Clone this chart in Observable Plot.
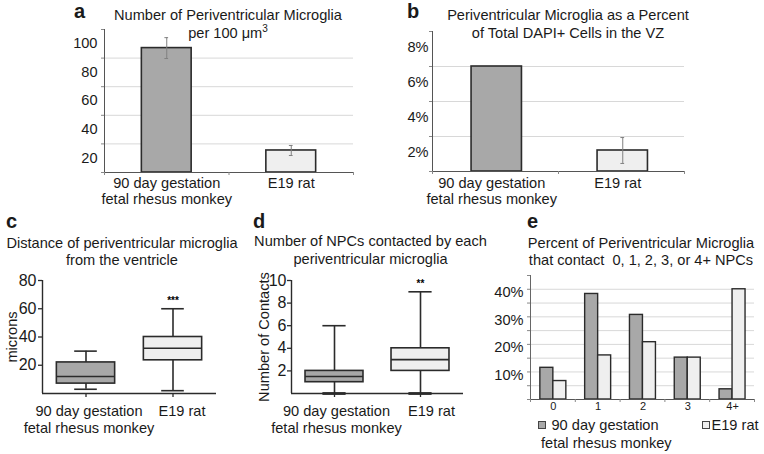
<!DOCTYPE html>
<html><head><meta charset="utf-8">
<script src="https://cdn.jsdelivr.net/npm/d3@7"></script>
<script src="https://cdn.jsdelivr.net/npm/@observablehq/plot@0.6"></script>
<style>
body{margin:0;background:#fff;}
#fig{position:relative;width:764px;height:454px;overflow:hidden;font-family:"Liberation Sans",Arial,sans-serif;color:#1a1a1a;background:#fff}
.panel{position:absolute}
.t{position:absolute;font-size:14.6px;line-height:18px;text-align:center;white-space:nowrap}
.L{position:absolute;font-size:20px;font-weight:bold;line-height:20px}
.sq{position:absolute;width:6px;height:6px;border:1px solid #444}
sup{font-size:10px;line-height:0;vertical-align:6px}
</style></head><body><div id="fig"></div><script>
// ---------- data ----------
const groups = ["90 day gestation\nfetal rhesus monkey", "E19 rat"];
const groupFills = ["#a8a8a8", "#efefef"];
// a: number of periventricular microglia per 100 um^3
const microgliaPer100 = [87, 15.4];
const microgliaPer100Err = [7.3, 3.5];
const ticksA = [20, 40, 60, 80, 100];
// b: percent of DAPI+ cells
const pctOfDapi = [6.0, 1.2];
const pctOfDapiErr = [0, 0.74];
const ticksB = [2, 4, 6, 8];
const ticksBLabels = ["2%", "4%", "6%", "8%"];
// c: distance from the ventricle (microns)
const distMin = [3, 2];
const distQ1 = [7, 23.5];
const distMedian = [12, 32];
const distQ3 = [22, 40];
const distMax = [30, 60];
const distSig = ["", "***"];
const ticksC = [20, 40, 60, 80];
// d: number of NPCs contacted
const contMin = [0, 0];
const contQ1 = [1, 2];
const contMedian = [1.5, 3];
const contQ3 = [2, 4];
const contMax = [6, 9];
const contSig = ["", "**"];
const ticksD = [2, 4, 6, 8, 10];
// e: percent contacting 0..4+ NPCs
const npcBins = ["0", "1", "2", "3", "4+"];
const monkeyPct = [11.5, 38.3, 30.7, 15.2, 3.7];
const ratPct = [6.7, 16.0, 20.8, 15.2, 40.0];
const ticksE = [10, 20, 30, 40];
const ticksELabels = ["10%", "20%", "30%", "40%"];
const gridE = [5, 10, 15, 20, 25, 30, 35, 40];

// ---------- helpers ----------
const FONT = "'Liberation Sans', Arial, sans-serif";
const INK = "#2b2b2b";
const TXT = "#1a1a1a";
const GRID = "#d8d8d8";
const fig = document.getElementById("fig");
const style = {fontFamily: FONT, fontSize: "14.6px", color: TXT, background: "transparent", overflow: "visible"};
function place(svg, left, top, w) {
  const d = document.createElement("div");
  d.className = "panel";
  d.style.left = left + "px"; d.style.top = top + "px"; d.style.width = w + "px";
  d.appendChild(svg); fig.appendChild(d);
}
function html(cls, left, top, inner, extra) {
  const d = document.createElement("div");
  d.className = cls; d.style.left = left + "px"; d.style.top = top + "px";
  if (extra) Object.assign(d.style, extra);
  d.innerHTML = inner; fig.appendChild(d);
}

// ---------- a ----------
const rowsA = groups.map((g, i) => ({i, g, v: microgliaPer100[i], e: microgliaPer100Err[i], fill: groupFills[i]}));
const errA = rowsA.filter(d => d.e > 0);
place(Plot.plot({
  width: 380, height: 210, marginLeft: 104, marginRight: 27, marginTop: 29, marginBottom: 38,
  x: {domain: [0, 2], axis: null}, y: {domain: [0, 100], axis: null}, color: {type: "identity"},
  style,
  marks: [
    Plot.ruleY(ticksA.slice(0, -1), {x1: 0, x2: 2, stroke: GRID}),
    Plot.rectY(rowsA, {x1: d => d.i + 0.3, x2: d => d.i + 0.7, y1: 0, y2: "v", fill: "fill", stroke: INK, strokeWidth: 1.6}),
    Plot.ruleX(errA, {x: d => d.i + 0.5, y1: d => d.v - d.e, y2: d => d.v + d.e, stroke: "#808080"}),
    Plot.ruleY(errA.flatMap(d => [{i: d.i, y: d.v - d.e}, {i: d.i, y: d.v + d.e}]), {y: "y", x1: d => d.i + 0.485, x2: d => d.i + 0.515, stroke: "#808080"}),
    Plot.ruleX([0], {y1: 0, y2: 100, stroke: "#555"}),
    Plot.ruleY([0], {x1: 0, x2: 2, stroke: "#555", strokeWidth: 1.2}),
    Plot.axisY({ticks: [0, ...ticksA], tickSize: 3, fill: "none", stroke: "#888", label: null}),
    Plot.axisX({ticks: [0, 1, 2], tickSize: 3, fill: "none", stroke: "#888", label: null}),
    Plot.text(ticksA, {y: d => d, frameAnchor: "left", dx: -7, dy: 14, textAnchor: "end", fontSize: 14.6, fill: TXT}),
    Plot.text(rowsA, {x: d => d.i + 0.5, text: "g", frameAnchor: "bottom", lineAnchor: "top", dy: 3, lineHeight: 1.16, fontSize: 14.6, fill: TXT})
  ]
}), 0, 0, 380);

// ---------- b ----------
const rowsB = groups.map((g, i) => ({i, g, v: pctOfDapi[i], e: pctOfDapiErr[i], fill: groupFills[i]}));
const errB = rowsB.filter(d => d.e > 0);
place(Plot.plot({
  width: 384, height: 210, marginLeft: 52, marginRight: 80, marginTop: 31, marginBottom: 39,
  x: {domain: [0, 2], axis: null}, y: {domain: [0, 8], axis: null}, color: {type: "identity"},
  style,
  marks: [
    Plot.ruleY(ticksB.slice(0, -1), {x1: 0, x2: 2, stroke: GRID}),
    Plot.rectY(rowsB, {x1: d => d.i + 0.31, x2: d => d.i + 0.71, y1: 0, y2: "v", fill: "fill", stroke: INK, strokeWidth: 1.6}),
    Plot.ruleX(errB, {x: d => d.i + 0.51, y1: d => d.v - d.e, y2: d => d.v + d.e, stroke: "#808080"}),
    Plot.ruleY(errB.flatMap(d => [{i: d.i, y: d.v - d.e}, {i: d.i, y: d.v + d.e}]), {y: "y", x1: d => d.i + 0.495, x2: d => d.i + 0.525, stroke: "#808080"}),
    Plot.ruleX([0], {y1: 0, y2: 8, stroke: "#555"}),
    Plot.ruleY([0], {x1: 0, x2: 2, stroke: "#555", strokeWidth: 1.2}),
    Plot.axisY({ticks: [0, ...ticksB], tickSize: 3, fill: "none", stroke: "#888", label: null}),
    Plot.axisX({ticks: [0, 1, 2], tickSize: 3, fill: "none", stroke: "#888", label: null}),
    Plot.text(ticksB, {y: d => d, text: (d, i) => ticksBLabels[i], frameAnchor: "left", dx: -4, dy: 16, textAnchor: "end", fontSize: 14.6, fill: TXT}),
    Plot.text(rowsB, {x: d => d.i + 0.47, text: "g", frameAnchor: "bottom", lineAnchor: "top", dy: 4, lineHeight: 1.16, fontSize: 14.6, fill: TXT})
  ]
}), 380, 0, 384);

// ---------- box panels ----------
function boxPanel(rows, yDomain, ticks, ylabel, cfg) {
  const half = cfg.half, cap = cfg.cap;
  const sigRows = rows.filter(d => d.sig);
  return Plot.plot({
    width: cfg.width, height: 244, marginLeft: cfg.ml, marginRight: cfg.mr, marginTop: 70, marginBottom: 61,
    x: {domain: [0, 2], axis: null}, y: {domain: yDomain, axis: null}, color: {type: "identity"},
    style,
    marks: [
      Plot.ruleX(rows, {x: d => d.i + 0.5, y1: "min", y2: "max", stroke: INK, strokeWidth: 1.6}),
      Plot.rectY(rows, {x1: d => d.i + 0.5 - half, x2: d => d.i + 0.5 + half, y1: "q1", y2: "q3", fill: "fill", stroke: INK, strokeWidth: 1.6}),
      Plot.ruleY(rows, {y: "med", x1: d => d.i + 0.5 - half, x2: d => d.i + 0.5 + half, stroke: INK, strokeWidth: 1.6}),
      Plot.ruleY(rows, {y: "max", x1: d => d.i + 0.5 - cap, x2: d => d.i + 0.5 + cap, stroke: INK, strokeWidth: 1.6}),
      Plot.ruleY(rows, {y: "min", x1: d => d.i + 0.5 - cap, x2: d => d.i + 0.5 + cap, stroke: INK, strokeWidth: cfg.minWidth}),
      Plot.ruleX([0], {y1: 0, y2: yDomain[1], stroke: INK, strokeWidth: 1.4}),
      Plot.ruleY([0], {x1: 0, x2: 2, stroke: INK, strokeWidth: 1.4}),
      Plot.axisY({ticks, tickSize: 4, fill: "none", stroke: INK, strokeWidth: 1.3, label: null}),
      Plot.axisX({ticks: [0.5, 1.5], tickSize: 4, fill: "none", stroke: INK, strokeWidth: 1.3, label: null}),
      Plot.text(ticks, {y: d => d, frameAnchor: "left", dx: cfg.tdx, textAnchor: "end", fontSize: 16, fill: TXT}),
      Plot.text([ylabel], {frameAnchor: "left", textAnchor: "middle", dx: cfg.ldx, rotate: -90, fontSize: 14.6, fill: TXT}),
      Plot.text(sigRows, {x: d => d.i + 0.5, y: "max", text: d => d.sig, dy: -8, fontSize: 10, fontWeight: "bold", fill: "#000"}),
      Plot.text(rows.slice(0, 1), {x: d => d.i + 0.5, text: "g", frameAnchor: "bottom", lineAnchor: "top", dx: cfg.dx0, dy: 10, lineHeight: 1.2, fontSize: 14.6, fill: TXT}),
      Plot.text(rows.slice(1), {x: d => d.i + 0.5, text: "g", frameAnchor: "bottom", lineAnchor: "top", dx: cfg.dx1, dy: 10, lineHeight: 1.2, fontSize: 14.6, fill: TXT})
    ]
  });
}
const rowsC = groups.map((g, i) => ({i, g, min: distMin[i], q1: distQ1[i], med: distMedian[i], q3: distQ3[i], max: distMax[i], sig: distSig[i], fill: groupFills[i]}));
place(boxPanel(rowsC, [0, 80], ticksC, "microns",
  {width: 255, ml: 42, mr: 39, half: 0.335, cap: 0.13, minWidth: 1.6, tdx: -6, ldx: -30, dx0: 3, dx1: 9}), 0, 210, 255);

const rowsD = groups.map((g, i) => ({i, g, min: contMin[i], q1: contQ1[i], med: contMedian[i], q3: contQ3[i], max: contMax[i], sig: contSig[i], fill: groupFills[i]}));
place(boxPanel(rowsD, [0, 10], ticksD, "Number of Contacts",
  {width: 255, ml: 36, mr: 47, half: 0.337, cap: 0.135, minWidth: 2.8, tdx: -5, ldx: -27, dx0: 2, dx1: 11}), 255, 210, 255);

// ---------- e ----------
const rowsE = npcBins.flatMap((b, i) => [
  {i, s: 0, v: monkeyPct[i], fill: groupFills[0]},
  {i, s: 1, v: ratPct[i], fill: groupFills[1]}
]);
place(Plot.plot({
  width: 284, height: 244, marginLeft: 50, marginRight: 10, marginTop: 65, marginBottom: 55,
  x: {domain: [0, 5], axis: null}, y: {domain: [0, 45], axis: null}, color: {type: "identity"},
  style,
  marks: [
    Plot.ruleY(gridE, {x1: 0, x2: 5, stroke: GRID}),
    Plot.rectY(rowsE, {x1: d => d.i + 0.22 + d.s * 0.29, x2: d => d.i + 0.51 + d.s * 0.29, y1: 0, y2: "v", fill: "fill", stroke: INK, strokeWidth: 1.4}),
    Plot.ruleX([0], {y1: 0, y2: 45, stroke: "#666"}),
    Plot.ruleY([0], {x1: 0, x2: 5, stroke: "#555", strokeWidth: 1.2}),
    Plot.axisY({ticks: [0, ...gridE, 45], tickSize: 3, fill: "none", stroke: "#888", label: null}),
    Plot.axisX({ticks: [0, 1, 2, 3, 4, 5], tickSize: 3, fill: "none", stroke: "#888", label: null}),
    Plot.text(ticksE, {y: d => d, text: (d, i) => ticksELabels[i], frameAnchor: "left", dx: -7, dy: 3, textAnchor: "end", fontSize: 14.6, fill: TXT}),
    Plot.text(npcBins, {x: (d, i) => i + 0.51, text: d => d, frameAnchor: "bottom", dy: 10, fontSize: 11, fill: TXT})
  ]
}), 480, 210, 284);

// ---------- titles, letters, legend ----------
html("L", 74, 1, "a");
html("L", 407, 1, "b");
html("L", 6, 211, "c");
html("L", 253, 211, "d");
html("L", 527, 211, "e");
html("t", 28, 6, "Number of Periventricular Microglia<br>per 100 &mu;m<sup>3</sup>", {width: "400px"});
html("t", 368, 6, "Periventricular Microglia as a Percent<br>of Total DAPI+ Cells in the VZ", {width: "400px"});
html("t", -78, 234.5, "Distance of periventricular microglia<br>from the ventricle", {width: "400px", lineHeight: "17px"});
html("t", 170.5, 233, "Number of NPCs contacted by each<br>periventricular microglia", {width: "400px", lineHeight: "17.5px"});
html("t", 441, 234.5, "Percent of Periventricular Microglia<br>that contact&nbsp; 0, 1, 2, 3, or 4+ NPCs", {width: "400px", lineHeight: "17px"});
// legend for e
html("sq", 538, 421, "", {background: groupFills[0]});
html("t", 551.5, 416, "90 day gestation", {textAlign: "left"});
html("t", 541, 433.5, "fetal rhesus monkey", {textAlign: "left"});
html("sq", 701.5, 421, "", {background: groupFills[1]});
html("t", 711.5, 416, "E19 rat", {textAlign: "left"});
</script></body></html>
